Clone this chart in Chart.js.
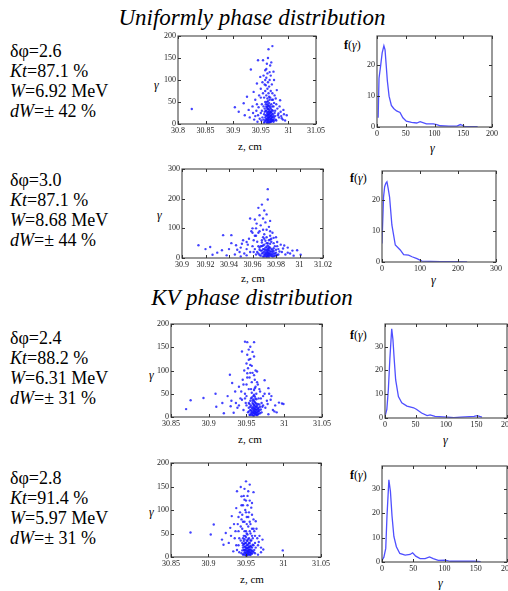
<!DOCTYPE html>
<html><head><meta charset="utf-8">
<script src="https://cdn.jsdelivr.net/npm/chart.js@4"></script>
<style>
body{margin:0;width:508px;height:591px;overflow:hidden;background:#fff;position:relative;font-family:"Liberation Serif","Times New Roman",serif;}
.t{position:absolute;white-space:nowrap;color:#000;}
.blk{font-size:18px;line-height:20px;}
.ttl{font-style:italic;font-size:23px;line-height:26px;text-align:center;}
.zl{font-size:11px;line-height:12px;text-align:center;width:60px;}
.gl{font-style:italic;font-size:12px;line-height:12px;}
.fl{font-size:12px;line-height:14px;}
canvas{position:absolute;}
</style></head><body>

<div class="t ttl" style="left:112px;top:5px;width:280px;">Uniformly phase distribution</div>
<div class="t ttl" style="left:142px;top:285px;width:220px;">KV phase distribution</div>

<div class="t blk" style="left:10px;top:41px;">δφ=2.6<br><i>Kt</i>=87.1 %<br><i>W</i>=6.92 MeV<br><i>dW</i>=± 42 %</div>
<div class="t blk" style="left:10px;top:170px;">δφ=3.0<br><i>Kt</i>=87.1 %<br><i>W</i>=8.68 MeV<br><i>dW</i>=± 44 %</div>
<div class="t blk" style="left:10px;top:328px;">δφ=2.4<br><i>Kt</i>=88.2 %<br><i>W</i>=6.31 MeV<br><i>dW</i>=± 31 %</div>
<div class="t blk" style="left:10px;top:468px;">δφ=2.8<br><i>Kt</i>=91.4 %<br><i>W</i>=5.97 MeV<br><i>dW</i>=± 31 %</div>

<div class="t zl" style="left:220px;top:140px;">z, cm</div>
<div class="t zl" style="left:223px;top:272px;">z, cm</div>
<div class="t zl" style="left:220px;top:433px;">z, cm</div>
<div class="t zl" style="left:222px;top:573px;">z, cm</div>

<div class="t gl" style="left:154px;top:79px;">γ</div>
<div class="t gl" style="left:157px;top:209px;">γ</div>
<div class="t gl" style="left:149px;top:369px;">γ</div>
<div class="t gl" style="left:149px;top:506px;">γ</div>

<div class="t gl" style="left:430px;top:142px;">γ</div>
<div class="t gl" style="left:431px;top:274px;">γ</div>
<div class="t gl" style="left:443px;top:434px;">γ</div>
<div class="t gl" style="left:438px;top:577px;">γ</div>

<div class="t fl" style="left:344px;top:38px;"><b>f</b>(<i>γ</i>)</div>
<div class="t fl" style="left:350px;top:171px;"><b>f</b>(<i>γ</i>)</div>
<div class="t fl" style="left:350px;top:328px;"><b>f</b>(<i>γ</i>)</div>
<div class="t fl" style="left:350px;top:468px;"><b>f</b>(<i>γ</i>)</div>

<canvas id="s1"></canvas><canvas id="h1"></canvas>
<canvas id="s2"></canvas><canvas id="h2"></canvas>
<canvas id="s3"></canvas><canvas id="h3"></canvas>
<canvas id="s4"></canvas><canvas id="h4"></canvas>

<script>
// ---------- data ----------
const s1XTicks = [30.8, 30.85, 30.9, 30.95, 31, 31.05];
const s1YTicks = [0, 50, 100, 150, 200];
const s1Points = [[30.825,34],[30.903,38],[30.91,28],[30.919,47],[30.925,62],[30.932,124],[30.937,73],[30.943,92],[30.945,145],[30.949,107],[30.954,145],[30.958,122],[30.961,137],[30.964,170],[30.967,133],[30.971,177],[30.973,119],[30.974,100],[30.979,77],[30.985,54],[30.991,32],[30.997,20],[30.988,13],[30.982,24],
[30.935,40],[30.94,55],[30.942,30],[30.945,20],[30.947,65],[30.95,80],[30.952,45],[30.953,95],[30.955,110],[30.956,60],[30.957,35],[30.958,75],[30.959,88],[30.96,105],[30.961,50],[30.962,115],[30.963,95],[30.964,70],[30.965,85],[30.966,100],[30.967,60],[30.968,110],[30.969,45],[30.97,90],[30.971,70],[30.972,55],[30.973,40],[30.975,65],[30.976,30],[30.978,45],[30.98,35],[30.983,15],[30.986,28],[30.99,10],[30.994,8],[30.93,15],[30.938,10],[30.944,5],[30.948,12],[30.95,25],
[30.955,10],[30.956,22],[30.957,5],[30.958,15],[30.959,30],[30.96,8],[30.96,18],[30.961,25],[30.961,3],[30.962,12],[30.962,35],[30.963,6],[30.963,16],[30.963,28],[30.963,42],[30.964,10],[30.964,20],[30.964,2],[30.965,14],[30.965,33],[30.965,48],[30.966,8],[30.966,24],[30.967,4],[30.967,18],[30.967,38],[30.968,12],[30.968,27],[30.969,6],[30.969,20],[30.97,15],[30.97,32],[30.971,9],[30.972,22],[30.973,5],[30.974,14],[30.975,25],[30.977,10],[30.963,52],[30.962,58],[30.966,55],[30.96,40],[30.958,50],[30.955,40],
[30.956,3],[30.957,28],[30.958,8],[30.959,20],[30.959,45],[30.96,12],[30.96,30],[30.961,10],[30.961,38],[30.962,4],[30.962,20],[30.962,45],[30.963,9],[30.963,22],[30.963,34],[30.964,14],[30.964,27],[30.964,40],[30.965,4],[30.965,22],[30.966,16],[30.966,30],[30.966,42],[30.967,10],[30.967,26],[30.968,5],[30.968,19],[30.968,35],[30.969,12],[30.969,28],[30.97,7],[30.97,24],[30.971,16],[30.971,40],[30.972,10],[30.972,30],[30.973,18],[30.974,8],[30.976,18],[30.978,8],
[30.94,18],[30.943,45],[30.946,38],[30.95,60],[30.952,30],[30.954,70],[30.957,90],[30.96,65],[30.962,80],[30.965,62],[30.968,75],[30.97,55],[30.974,48],[30.977,58],[30.981,20],[30.984,40],[30.987,18],[30.992,22],[30.953,15],[30.951,8],[30.96,125],[30.963,150],[30.966,118],[30.958,100],[30.969,140],[30.921,20],[30.928,32],[30.936,25]];

const h1XTicks = [0, 50, 100, 150, 200];
const h1YTicks = [0, 10, 20];
const h1Gamma = [2,3.5,6.4,9,12,14,16,18,21,25,29,34,40,45,51,60,69,75,86,98,104,110,125,139,145,152,175];
const h1F     = [3,15.8,20,24,26.3,25,20,15,10,7,6,5.2,4.7,3,1.9,1.5,1.3,1.7,1,1,0.8,0.4,0.3,0.3,0.8,0.2,0.1];

const s2XTicks = [30.9, 30.92, 30.94, 30.96, 30.98, 31, 31.02];
const s2YTicks = [0, 100, 200, 300];
const s2Points = [[30.914,43],[30.924,37],[30.926,11],[30.934,26],[30.935,77],[30.938,9],[30.942,77],[30.946,43],[30.949,20],[30.951,48],[30.955,54],[30.955,9],[30.958,133],[30.9635,116],[30.965,169],[30.966,144],[30.969,133],[30.972,147],[30.973,197],[30.973,232],[30.981,54],[30.986,32],[30.992,15],[31.001,11],[30.998,26],
[30.955,30],[30.957,65],[30.959,90],[30.96,40],[30.961,20],[30.962,75],[30.963,100],[30.964,55],[30.965,85],[30.966,35],[30.967,110],[30.968,60],[30.969,95],[30.97,80],[30.971,120],[30.972,70],[30.974,105],[30.975,90],[30.976,65],[30.977,85],[30.978,50],[30.979,40],[30.98,70],[30.982,30],[30.984,45],[30.985,20],[30.988,12],[30.99,35],[30.995,8],[30.95,5],[30.945,12],[30.94,30],[30.952,60],[30.96,100],
[30.966,10],[30.967,25],[30.968,15],[30.968,40],[30.969,5],[30.969,30],[30.97,12],[30.97,22],[30.97,45],[30.971,8],[30.971,18],[30.971,35],[30.972,3],[30.972,14],[30.972,28],[30.972,50],[30.973,10],[30.973,20],[30.973,32],[30.973,42],[30.973,6],[30.974,16],[30.974,26],[30.974,38],[30.975,9],[30.975,22],[30.975,48],[30.976,13],[30.976,30],[30.977,5],[30.977,20],[30.978,15],[30.978,33],[30.979,8],[30.98,18],[30.981,10],[30.964,20],[30.965,40],[30.963,12],[30.962,30],[30.974,60],[30.97,65],[30.976,55],
[30.967,8],[30.967,40],[30.968,25],[30.969,18],[30.969,42],[30.97,5],[30.97,30],[30.971,13],[30.971,27],[30.972,7],[30.972,20],[30.972,38],[30.973,15],[30.973,26],[30.973,50],[30.974,4],[30.974,11],[30.974,32],[30.975,15],[30.975,35],[30.976,7],[30.976,22],[30.977,12],[30.977,28],[30.978,6],[30.978,24],[30.979,15],[30.98,9],[30.98,28],[30.982,12],[30.965,15],[30.966,28],[30.968,52],[30.971,58],[30.975,62],
[30.95,35],[30.953,15],[30.956,45],[30.958,20],[30.961,60],[30.963,75],[30.966,90],[30.969,70],[30.972,95],[30.975,75],[30.978,68],[30.981,40],[30.983,22],[30.987,42],[30.99,18],[30.994,25],[30.942,50],[30.947,28],[30.93,18],[30.92,30],[30.962,130],[30.97,160],[30.975,125],[30.968,180],[30.96,85]];

const h2XTicks = [0, 100, 200, 300];
const h2YTicks = [0, 10, 20];
const h2Gamma = [0,4,7,10,13,16,20,26,35,48,57,70,79,92,105,127,154,197,224];
const h2F     = [6,21,24.4,25.5,26,24,21,12,5.5,3.9,2.4,2.2,1.7,1.1,0.3,0.2,0.1,0.1,0.05];

const s3XTicks = [30.85, 30.9, 30.95, 31, 31.05];
const s3YTicks = [0, 50, 100, 150, 200];
const s3Points = [[30.870,17],[30.876,36],[30.893,41],[30.909,50],[30.918,30],[30.928,91],[30.929,23],[30.931,73],[30.933,9],[30.944,141],[30.944,37],[30.948,162],[30.951,161],[30.951,134],[30.951,94],[30.953,123],[30.955,151],[30.955,112],[30.96,161],[30.964,98],[30.974,79],[30.979,62],[30.982,37],[30.993,31],[30.997,29],[30.999,28],[30.979,6],[30.966,16],
[30.925,45],[30.935,55],[30.938,20],[30.94,65],[30.942,40],[30.945,80],[30.946,15],[30.948,50],[30.95,70],[30.952,105],[30.953,30],[30.954,85],[30.956,60],[30.957,75],[30.958,95],[30.959,45],[30.961,80],[30.962,65],[30.963,50],[30.965,70],[30.966,40],[30.968,55],[30.97,30],[30.972,45],[30.975,20],[30.977,35],[30.985,15],[30.988,25],[30.99,10],[30.92,8],[30.93,35],[30.98,50],[30.955,125],[30.958,140],
[30.952,10],[30.953,20],[30.954,5],[30.955,15],[30.955,35],[30.956,8],[30.956,25],[30.957,12],[30.957,42],[30.958,4],[30.958,18],[30.958,30],[30.959,9],[30.959,22],[30.959,38],[30.96,3],[30.96,13],[30.96,26],[30.96,48],[30.961,7],[30.961,17],[30.961,32],[30.962,11],[30.962,21],[30.962,40],[30.963,5],[30.963,15],[30.963,28],[30.964,10],[30.964,24],[30.965,6],[30.965,19],[30.966,12],[30.967,27],[30.968,8],[30.969,16],[30.971,22],[30.95,25],[30.948,40],[30.96,58],
[30.953,12],[30.954,28],[30.955,4],[30.955,22],[30.956,14],[30.956,40],[30.957,6],[30.957,20],[30.958,10],[30.958,35],[30.959,3],[30.959,15],[30.959,28],[30.96,8],[30.96,19],[30.96,35],[30.961,12],[30.961,24],[30.961,44],[30.962,6],[30.962,16],[30.962,30],[30.963,9],[30.963,22],[30.963,38],[30.964,4],[30.964,16],[30.965,12],[30.965,28],[30.966,7],[30.966,20],[30.967,14],[30.968,22],[30.97,10],[30.957,52],[30.961,62],
[30.94,25],[30.943,55],[30.946,70],[30.949,30],[30.951,85],[30.953,60],[30.955,95],[30.957,110],[30.96,90],[30.962,100],[30.964,75],[30.967,60],[30.969,40],[30.972,25],[30.974,50],[30.978,28],[30.983,45],[30.987,12],[30.936,30],[30.95,45],[30.947,100],[30.953,145],[30.96,130],[30.95,115],[30.91,22]];

const h3XTicks = [0, 50, 100, 150, 200];
const h3YTicks = [0, 10, 20, 30];
const h3Gamma = [0,3,5.5,8,11,13,15,17.5,22,27.5,36,47,52,60,69,74,82,102,113,124,146,151,159];
const h3F     = [0.7,3.6,12,25,37.5,33,25,16,9,6.4,5,4.3,3.6,2.1,1,1.3,0.7,0.4,0.1,0.4,0.7,1,0.4];

const s4XTicks = [30.85, 30.9, 30.95, 31, 31.05];
const s4YTicks = [0, 50, 100, 150, 200];
const s4Points = [[30.876,52],[30.903,48],[30.907,69],[30.918,37],[30.92,26],[30.923,51],[30.929,62],[30.931,87],[30.933,12],[30.937,104],[30.938,140],[30.943,149],[30.944,129],[30.948,122],[30.95,161],[30.955,154],[30.958,115],[30.96,138],[30.958,90],[30.963,76],[30.965,40],[30.972,37],[30.973,16],[30.999,14],[30.966,5],
[30.935,40],[30.937,25],[30.939,70],[30.94,55],[30.941,10],[30.942,95],[30.943,35],[30.944,80],[30.945,60],[30.946,20],[30.946,110],[30.947,45],[30.948,75],[30.949,100],[30.95,55],[30.951,85],[30.952,130],[30.953,65],[30.954,95],[30.955,75],[30.956,50],[30.957,105],[30.958,60],[30.959,40],[30.96,80],[30.961,55],[30.962,30],[30.964,60],[30.966,25],[30.968,45],[30.97,20],[30.927,30],[30.93,45],[30.95,120],[30.945,90],
[30.944,8],[30.945,30],[30.946,5],[30.947,15],[30.947,28],[30.948,10],[30.948,22],[30.948,38],[30.949,4],[30.949,16],[30.949,30],[30.95,8],[30.95,20],[30.95,42],[30.951,12],[30.951,25],[30.951,3],[30.952,9],[30.952,18],[30.952,34],[30.952,48],[30.953,6],[30.953,14],[30.953,27],[30.954,11],[30.954,21],[30.954,40],[30.955,5],[30.955,16],[30.955,30],[30.956,9],[30.956,24],[30.957,13],[30.957,35],[30.958,7],[30.958,20],[30.959,12],[30.96,25],[30.961,15],[30.962,8],
[30.945,14],[30.946,25],[30.946,40],[30.947,6],[30.947,34],[30.948,15],[30.948,28],[30.949,9],[30.949,22],[30.949,45],[30.95,3],[30.95,14],[30.95,30],[30.951,7],[30.951,18],[30.951,35],[30.952,4],[30.952,13],[30.952,25],[30.953,10],[30.953,20],[30.953,38],[30.954,6],[30.954,15],[30.954,30],[30.955,10],[30.955,22],[30.956,4],[30.956,16],[30.956,35],[30.957,8],[30.957,22],[30.958,14],[30.959,26],[30.96,10],[30.951,50],[30.955,55],
[30.936,55],[30.938,15],[30.94,85],[30.941,40],[30.943,65],[30.944,110],[30.946,75],[30.947,130],[30.948,55],[30.95,95],[30.951,70],[30.952,110],[30.953,85],[30.955,120],[30.956,70],[30.958,45],[30.96,60],[30.962,45],[30.963,20],[30.967,32],[30.97,10],[30.94,25],[30.948,145],[30.953,140],[30.934,70]];

const h4XTicks = [0, 50, 100, 150, 200];
const h4YTicks = [0, 10, 20, 30];
const h4Gamma = [0,3,6,8,11,13.5,16,19,23,28.5,37,45,49,54,61,69,76,82,90,101,109,131,147,158];
const h4F     = [0.7,2,5.6,19,33.8,29,19,10.5,6.3,3.5,2.8,3.1,3.8,2.4,1.4,1.4,2.1,1.4,0.7,0.8,0.3,0.3,0.4,0.1];

// ---------- drawing ----------
const PADL = 26, PADT = 7, PADR = 16, PADB = 16;
const boxTicks = {
  id: 'boxTicks',
  afterDraw(chart) {
    const {ctx, chartArea: a, scales: {x, y}} = chart;
    ctx.save();
    ctx.strokeStyle = '#555';
    ctx.lineWidth = 1.2;
    ctx.strokeRect(a.left, a.top, a.right - a.left, a.bottom - a.top);
    ctx.lineWidth = 1;
    ctx.strokeStyle = '#333';
    const L = 3;
    ctx.beginPath();
    x.ticks.forEach(t => {
      const p = Math.round(x.getPixelForValue(t.value)) + 0.5;
      ctx.moveTo(p, a.bottom); ctx.lineTo(p, a.bottom - L);
      ctx.moveTo(p, a.top); ctx.lineTo(p, a.top + L);
    });
    y.ticks.forEach(t => {
      const p = Math.round(y.getPixelForValue(t.value)) + 0.5;
      ctx.moveTo(a.left, p); ctx.lineTo(a.left + L, p);
      ctx.moveTo(a.right, p); ctx.lineTo(a.right - L, p);
    });
    ctx.stroke();
    ctx.restore();
  }
};

function fmt(v) { return String(Number(v.toFixed(3))); }

function makeChart(id, box, xr, yr, xt, yt, dataset) {
  const cv = document.getElementById(id);
  const w = (box.r - box.l) + PADL + PADR, h = (box.b - box.t) + PADT + PADB;
  cv.width = w; cv.height = h;
  cv.style.left = (box.l - PADL) + 'px';
  cv.style.top = (box.t - PADT) + 'px';
  cv.style.width = w + 'px'; cv.style.height = h + 'px';
  const tickFont = {family: '"Liberation Serif","Times New Roman",serif', size: 8};
  new Chart(cv, {
    type: 'scatter',
    data: {datasets: [dataset]},
    options: {
      responsive: false, animation: false, devicePixelRatio: 1,
      layout: {padding: {left: 0, top: PADT, right: PADR, bottom: 0}},
      plugins: {legend: {display: false}, tooltip: {enabled: false}},
      scales: {
        x: {
          type: 'linear', min: xr[0], max: xr[1],
          grid: {display: false, drawTicks: false, tickLength: 0}, border: {display: false},
          afterBuildTicks: s => { s.ticks = xt.map(v => ({value: v})); },
          afterFit: s => { s.height = PADB; },
          ticks: {font: tickFont, color: '#222', padding: 2, maxRotation: 0, autoSkip: false, callback: v => fmt(v)}
        },
        y: {
          type: 'linear', min: yr[0], max: yr[1],
          grid: {display: false, drawTicks: false, tickLength: 0}, border: {display: false},
          afterBuildTicks: s => { s.ticks = yt.map(v => ({value: v})); },
          afterFit: s => { s.width = PADL; },
          ticks: {font: tickFont, color: '#222', padding: 2, autoSkip: false, callback: v => fmt(v)}
        }
      }
    },
    plugins: [boxTicks]
  });
}

function scatterSet(pts) {
  return {data: pts.map(p => ({x: p[0], y: p[1]})), pointRadius: 1.2, pointBorderWidth: 0,
          pointBackgroundColor: 'rgba(20,20,255,0.8)', showLine: false};
}
function lineSet(g, f) {
  return {data: g.map((v, i) => ({x: v, y: f[i]})), showLine: true, pointRadius: 0,
          borderColor: 'rgba(60,60,255,0.9)', borderWidth: 1.3, tension: 0};
}

makeChart('s1', {l:178, t:36, r:316, b:124}, [30.8, 31.05], [0, 200], s1XTicks, s1YTicks, scatterSet(s1Points));
makeChart('h1', {l:377, t:36, r:492, b:127}, [0, 200], [0, 29.5], h1XTicks, h1YTicks, lineSet(h1Gamma, h1F));
makeChart('s2', {l:182, t:169, r:323, b:258}, [30.9, 31.02], [0, 300], s2XTicks, s2YTicks, scatterSet(s2Points));
makeChart('h2', {l:382, t:171, r:496, b:262}, [0, 300], [0, 29.5], h2XTicks, h2YTicks, lineSet(h2Gamma, h2F));
makeChart('s3', {l:171, t:324, r:322, b:417}, [30.85, 31.05], [0, 200], s3XTicks, s3YTicks, scatterSet(s3Points));
makeChart('h3', {l:385, t:324, r:507, b:418}, [0, 200], [0, 39.5], h3XTicks, h3YTicks, lineSet(h3Gamma, h3F));
makeChart('s4', {l:171, t:463, r:321, b:557}, [30.85, 31.05], [0, 200], s4XTicks, s4YTicks, scatterSet(s4Points));
makeChart('h4', {l:382, t:466, r:507, b:562}, [0, 200], [0, 39.5], h4XTicks, h4YTicks, lineSet(h4Gamma, h4F));
</script>
</body></html>
